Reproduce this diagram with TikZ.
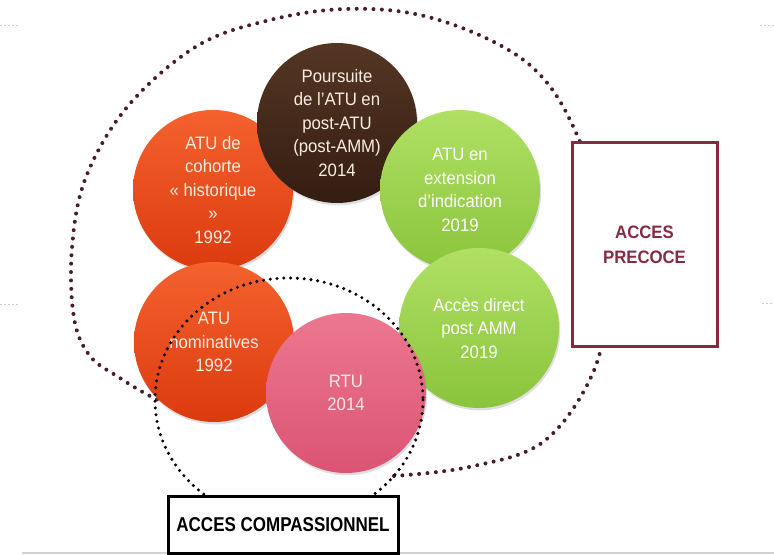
\documentclass[tikz,border=0pt]{standalone}
\usepackage{fontspec}
\setmainfont{Liberation Sans}[FakeStretch=0.93]
\newfontfamily\narrowBold{Liberation Sans}[FakeStretch=0.85]
\usetikzlibrary{shadows}

\definecolor{orangeHaut}{HTML}{F4622E}
\definecolor{orangeBas}{HTML}{DC3A0E}
\definecolor{brunHaut}{HTML}{553624}
\definecolor{brunBas}{HTML}{341D11}
\definecolor{vertHaut}{HTML}{B0E064}
\definecolor{vertBas}{HTML}{8AC43C}
\definecolor{roseHaut}{HTML}{EC7791}
\definecolor{roseBas}{HTML}{DB5474}
\definecolor{texteClair}{HTML}{FBEDE3}
\definecolor{grenat}{HTML}{862A40}
\definecolor{grenatPoint}{HTML}{4A1C2A}

\begin{document}
\begin{tikzpicture}[x=0.5pt,y=-0.5pt,
  bulle/.style={circle, minimum size=80pt, inner sep=0pt, align=center,
    font={\fontsize{9}{11.75}\selectfont},
    drop shadow={shadow xshift=0.6pt, shadow yshift=-1.2pt, opacity=0.25}},
  bulleOrange/.style={bulle, top color=orangeHaut, bottom color=orangeBas, text=texteClair},
  bulleBrune/.style={bulle, top color=brunHaut, bottom color=brunBas, text=texteClair},
  bulleVerte/.style={bulle, top color=vertHaut, bottom color=vertBas, text=white},
  bulleRose/.style={bulle, top color=roseHaut, bottom color=roseBas, text=texteClair},
  pointsGrenat/.style={draw=grenatPoint, line width=2pt, line cap=round, dash pattern=on 0pt off 4.2pt},
  pointsNoirs/.style={draw=black, line width=1.7pt, line cap=round, dash pattern=on 0pt off 3.4pt},
  cadre/.style={draw, fill=white, line width=1.5pt, inner sep=0pt, align=center},
  repere/.style={draw=gray!40, line width=0.4pt, dash pattern=on 1pt off 1pt}]
\useasboundingbox (0,0) rectangle (774,555);

% traits de repere en bordure
\draw[repere] (0,25) -- (20,25);
\draw[repere] (0,304) -- (20,304);
\draw[repere] (760,25) -- (774,25);
\draw[repere] (762,303) -- (774,303);
\draw[gray!35, line width=0.6pt] (22,553) -- (774,553);

% grande boucle de l'acces precoce
\draw[pointsGrenat] plot[smooth, tension=0.6] coordinates {(394,476) (469,467) (543,442) (592,375) (608,300) (606,220) (577,135) (543,78) (494,42) (420,15) (345,9) (270,20) (197,46) (128,106) (86,177) (72,248) (74,318) (90,356) (120,378) (148,395) (168,404)};

% pastilles
\node[bulleOrange] (cohorte) at (213,190) {ATU de\\cohorte\\«~historique\\»\\1992};
\node[bulleBrune] (poursuite) at (337,123) {Poursuite\\de l'ATU en\\post-ATU\\(post-AMM)\\2014};
\node[bulleVerte] (extension) at (460,190) {ATU en\\extension\\d'indication\\2019};
\node[bulleVerte] (direct) at (479,328) {Accès direct\\post AMM\\2019};
\node[bulleOrange] (nominatives) at (214,342) {ATU\\nominatives\\1992};
\node[bulleRose] (rtu) at (346,393) {RTU\\2014};

% cercle de l'acces compassionnel
\draw[pointsNoirs] (289,400) ellipse [x radius=134, y radius=122];

% cadres
\node[cadre, draw=grenat, text=grenat, minimum width=72.5pt, minimum height=101.5pt,
  font={\bfseries\fontsize{9}{12.5}\selectfont}] (precoce) at (644.5,244.5) {ACCES\\PRECOCE};
\node[cadre, draw=black, minimum width=115pt, minimum height=28.5pt,
  font={\narrowBold\bfseries\fontsize{10}{12}\selectfont}] (compassionnel) at (283,524.5) {ACCES COMPASSIONNEL};
\end{tikzpicture}
\end{document}
